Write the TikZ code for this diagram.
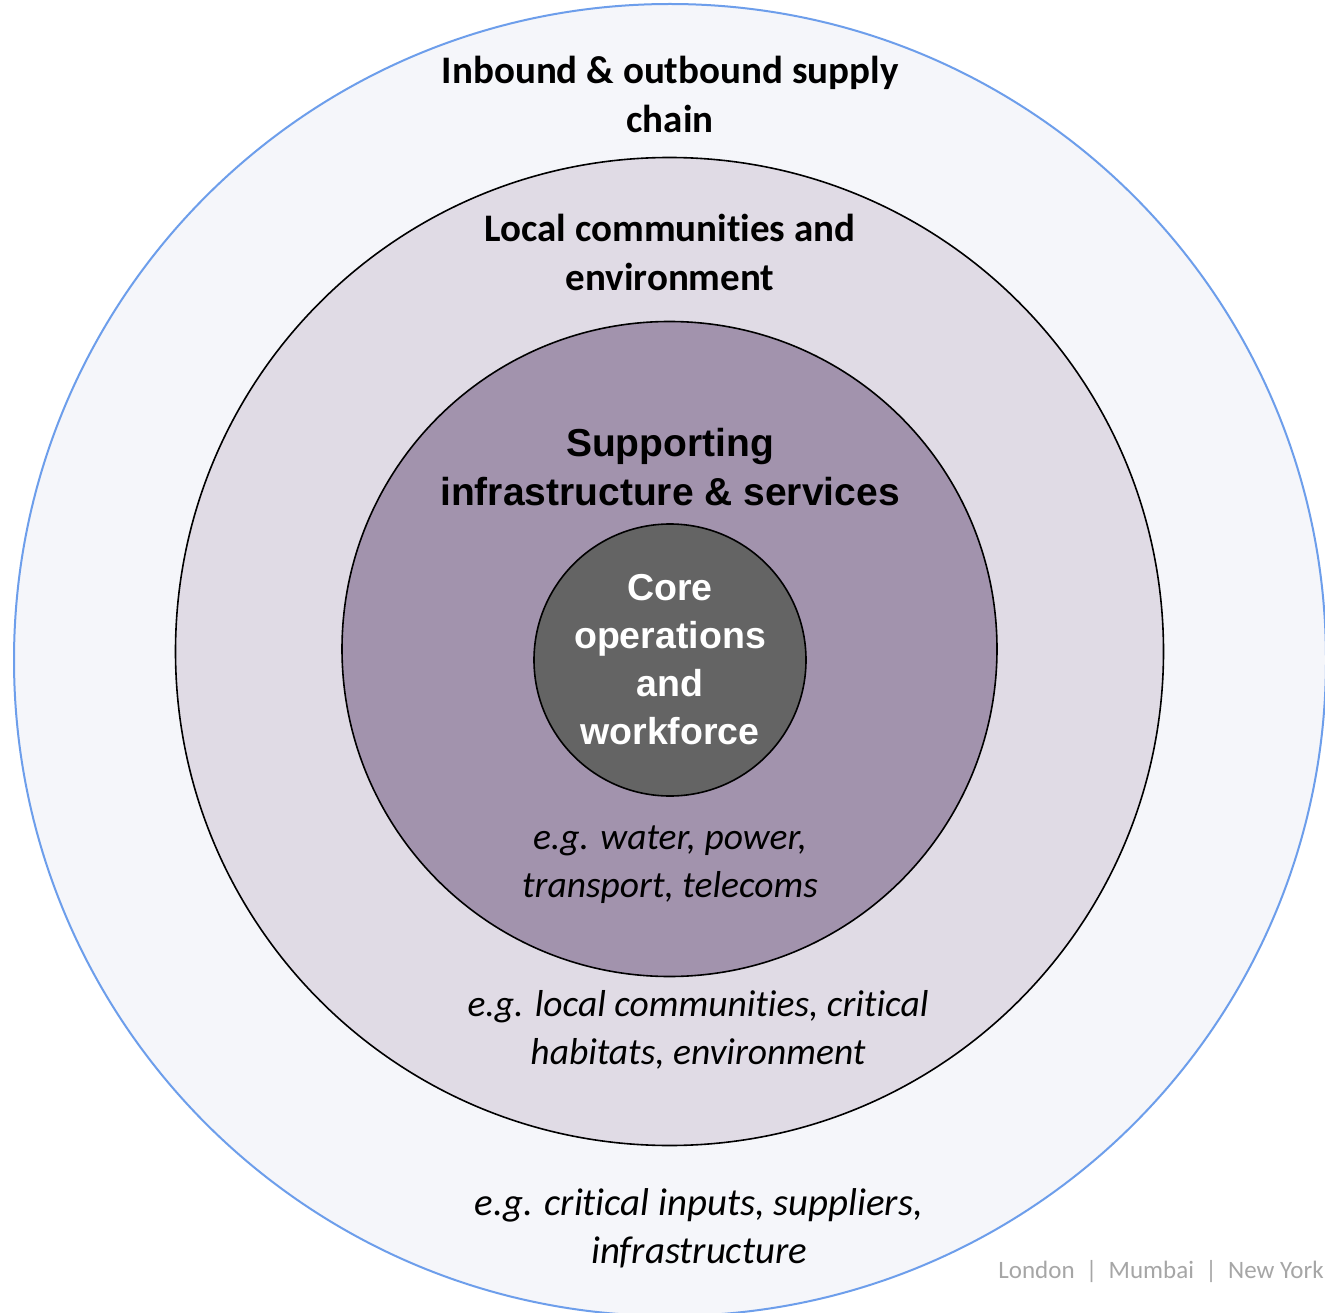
\documentclass[tikz,border=0pt]{standalone}
\usepackage{fontspec}
\setmainfont{Carlito}[Ligatures=CommonOff]
\newfontfamily\arialf{Liberation Sans}
\begin{document}
\begin{tikzpicture}[x=1pt,y=-1pt,
  ring/.style={circle, draw=black, line width=1.6pt, inner sep=0pt},
  calb/.style={font=\fontsize{39}{49}\selectfont\bfseries, align=center, text=black},
  calit/.style={font=\fontsize{37.5}{48}\selectfont\itshape, align=center, text=black},
  arb/.style={font=\arialf\fontsize{39}{49}\selectfont\bfseries, align=center}]
\definecolor{outerfill}{HTML}{F5F6FA}
\definecolor{outerline}{HTML}{6D9EEB}
\definecolor{ringtwo}{HTML}{E0DBE5}
\definecolor{ringthree}{HTML}{A293AD}
\definecolor{corefill}{HTML}{646464}
\definecolor{footgray}{HTML}{A6A6A6}
\useasboundingbox (0,0) rectangle (1325,1313);
\fill[white] (0,0) rectangle (1325,1313);
\node[circle, draw=outerline, fill=outerfill, line width=2pt, inner sep=0pt, minimum size=1312pt] (outer) at (670,660) {};
\node[ring, fill=ringtwo, minimum size=988pt] (local) at (669.5,651.5) {};
\node[ring, fill=ringthree, minimum size=655pt] (support) at (669.5,649) {};
\node[ring, fill=corefill, minimum size=272pt] (core) at (670,660) {};
\node[calb] (t1) at (670,94.5) {Inbound \& outbound supply\\chain};
\node[calb] (t2) at (670,252.5) {Local communities and\\environment};
\node[arb] (t3) at (670,467.5) {Supporting\\infrastructure \& services};
\node[arb, text=white, font=\arialf\fontsize{37.5}{48}\selectfont\bfseries] (t4) at (670,659.5) {Core\\operations\\and\\workforce};
\node[calit] (e1) at (670,864.5) {e.g. water, power,\\transport, telecoms};
\node[calit] (e2) at (698,1030) {e.g. local communities, critical\\habitats, environment};
\node[calit, font=\fontsize{38.8}{48}\selectfont\itshape] (e3) at (699,1228) {e.g. critical inputs, suppliers,\\infrastructure};
\node[font=\fontsize{25}{28}\selectfont, text=footgray, anchor=east, inner sep=0pt] (foot) at (1324,1272) {London \ | \ Mumbai \ | \ New York};
\end{tikzpicture}
\end{document}
